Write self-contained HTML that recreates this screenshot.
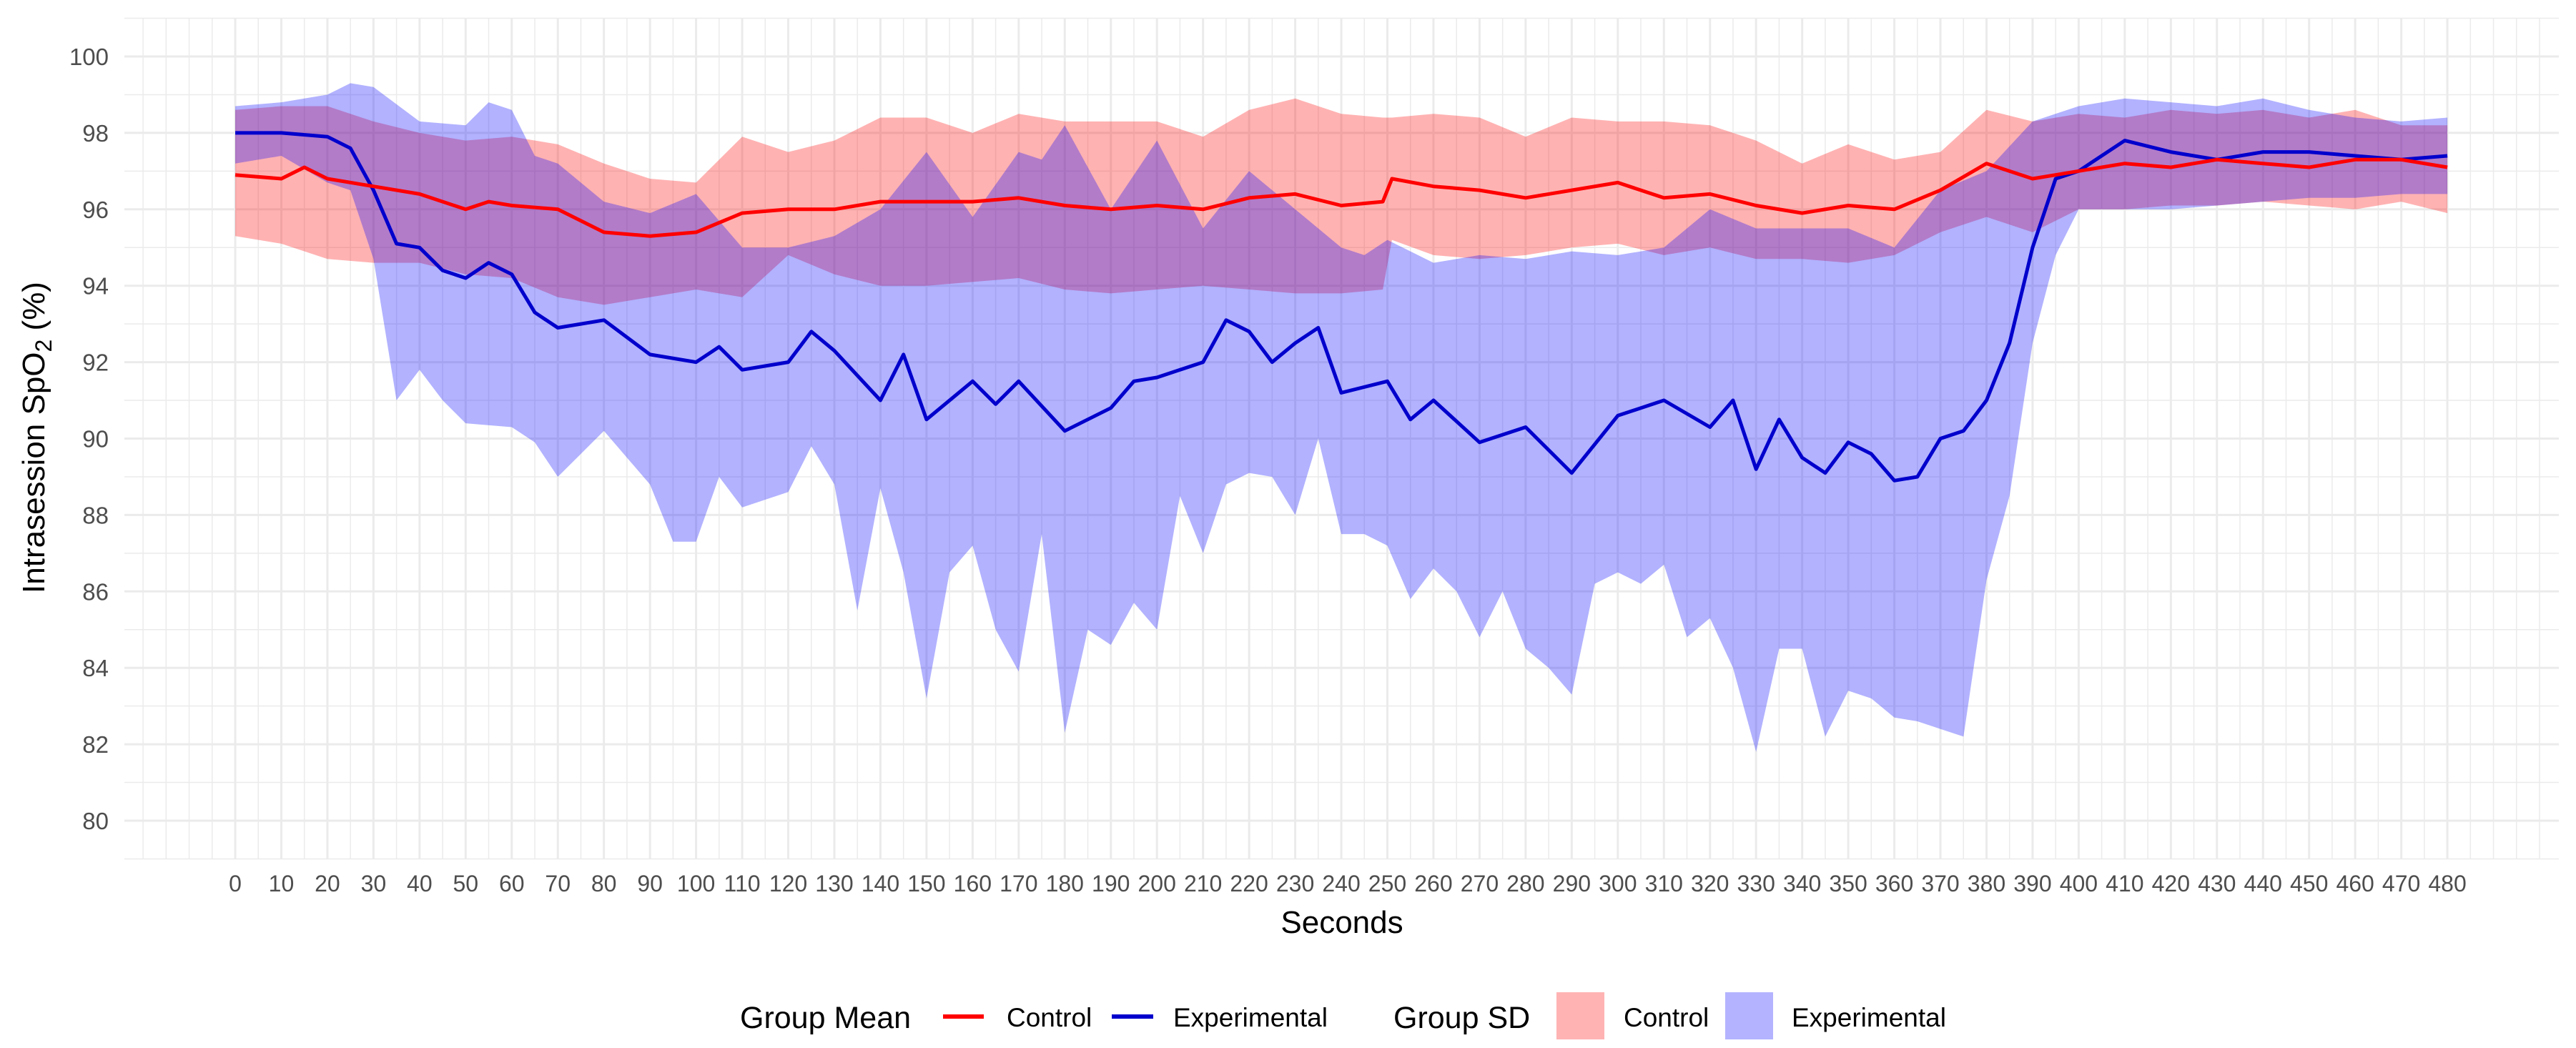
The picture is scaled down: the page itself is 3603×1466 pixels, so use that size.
<!DOCTYPE html>
<html><head><meta charset="utf-8"><style>
html,body{margin:0;padding:0;background:#fff}
svg{display:block}
text{font-family:"Liberation Sans",Arial,sans-serif}
</style></head><body>
<svg id="chart" width="3603" height="1466" viewBox="0 0 3603 1466" xmlns="http://www.w3.org/2000/svg">
<g id="grid"></g>
<g id="bands"></g>
<g id="lines"></g>
<g id="yticks"></g>
<g id="xticks"></g>
<text x="1877" y="1305" font-size="44" text-anchor="middle" fill="#000">Seconds</text>
<text transform="translate(62,612) rotate(-90)" font-size="44" text-anchor="middle" fill="#000">Intrasession SpO<tspan font-size="32" dy="10">2</tspan><tspan dy="-10"> (%)</tspan></text>
<g>
<text x="1035" y="1438" font-size="43">Group Mean</text>
<line x1="1319" y1="1422" x2="1376" y2="1422" stroke="#ff0000" stroke-width="6"/>
<text x="1408" y="1436" font-size="37">Control</text>
<line x1="1555" y1="1422" x2="1613" y2="1422" stroke="#0000cc" stroke-width="6"/>
<text x="1641" y="1436" font-size="37">Experimental</text>
<text x="1949" y="1438" font-size="43">Group SD</text>
<rect x="2177" y="1388" width="67" height="66" fill="#ffb3b3"/>
<text x="2271" y="1436" font-size="37">Control</text>
<rect x="2413" y="1388" width="67" height="66" fill="#b3b3ff"/>
<text x="2506" y="1436" font-size="37">Experimental</text>
</g>
</svg>
<script>
const xTicks=[0,10,20,30,40,50,60,70,80,90,100,110,120,130,140,150,160,170,180,190,200,210,220,230,240,250,260,270,280,290,300,310,320,330,340,350,360,370,380,390,400,410,420,430,440,450,460,470,480];
const yTicks=[80,82,84,86,88,90,92,94,96,98,100];

const ctrlMeanT=[0,10,15,20,30,40,50,55,60,70,80,90,100,110,120,130,140,150,160,170,180,190,200,210,220,230,240,249,251,260,270,280,290,300,310,320,330,340,350,360,370,380,390,400,410,420,430,440,450,460,470,480];
const ctrlMean=[96.9,96.8,97.1,96.8,96.6,96.4,96.0,96.2,96.1,96.0,95.4,95.3,95.4,95.9,96.0,96.0,96.2,96.2,96.2,96.3,96.1,96.0,96.1,96.0,96.3,96.4,96.1,96.2,96.8,96.6,96.5,96.3,96.5,96.7,96.3,96.4,96.1,95.9,96.1,96.0,96.5,97.2,96.8,97.0,97.2,97.1,97.3,97.2,97.1,97.3,97.3,97.1];

const expMeanT=[0,10,20,25,30,35,40,45,50,55,60,65,70,80,90,100,105,110,120,125,130,140,145,150,160,165,170,180,190,195,200,210,215,220,225,230,235,240,250,255,260,270,280,290,300,310,320,325,330,335,340,345,350,355,360,365,370,375,380,385,390,395,400,410,420,430,440,450,460,470,480];
const expMean=[98.0,98.0,97.9,97.6,96.5,95.1,95.0,94.4,94.2,94.6,94.3,93.3,92.9,93.1,92.2,92.0,92.4,91.8,92.0,92.8,92.3,91.0,92.2,90.5,91.5,90.9,91.5,90.2,90.8,91.5,91.6,92.0,93.1,92.8,92.0,92.5,92.9,91.2,91.5,90.5,91.0,89.9,90.3,89.1,90.6,91.0,90.3,91.0,89.2,90.5,89.5,89.1,89.9,89.6,88.9,89.0,90.0,90.2,91.0,92.5,95.0,96.8,97.0,97.8,97.5,97.3,97.5,97.5,97.4,97.3,97.4];

const ctrlBandT=[0,10,20,30,40,50,60,70,80,90,100,110,120,130,140,150,160,170,180,190,200,210,220,230,240,249,251,260,270,280,290,300,310,320,330,340,350,360,370,380,390,400,410,420,430,440,450,460,470,480];
const ctrlUpper=[98.6,98.7,98.7,98.3,98.0,97.8,97.9,97.7,97.2,96.8,96.7,97.9,97.5,97.8,98.4,98.4,98.0,98.5,98.3,98.3,98.3,97.9,98.6,98.9,98.5,98.4,98.4,98.5,98.4,97.9,98.4,98.3,98.3,98.2,97.8,97.2,97.7,97.3,97.5,98.6,98.3,98.5,98.4,98.6,98.5,98.6,98.4,98.6,98.2,98.2];
const ctrlLower=[95.3,95.1,94.7,94.6,94.6,94.3,94.2,93.7,93.5,93.7,93.9,93.7,94.8,94.3,94.0,94.0,94.1,94.2,93.9,93.8,93.9,94.0,93.9,93.8,93.8,93.9,95.2,94.8,94.7,94.8,95.0,95.1,94.8,95.0,94.7,94.7,94.6,94.8,95.4,95.8,95.4,96.0,96.0,96.1,96.1,96.2,96.1,96.0,96.2,95.9];

const expUpperT=[0,10,20,25,30,40,50,55,60,65,70,80,90,100,110,120,130,140,150,160,170,175,180,190,200,210,220,230,240,245,250,260,270,280,290,300,310,320,330,340,350,360,370,380,390,400,410,420,430,440,450,460,470,480];
const expUpper=[98.7,98.8,99.0,99.3,99.2,98.3,98.2,98.8,98.6,97.4,97.2,96.2,95.9,96.4,95.0,95.0,95.3,96.0,97.5,95.8,97.5,97.3,98.2,96.0,97.8,95.5,97.0,96.0,95.0,94.8,95.2,94.6,94.8,94.7,94.9,94.8,95.0,96.0,95.5,95.5,95.5,95.0,96.5,97.0,98.3,98.7,98.9,98.8,98.7,98.9,98.6,98.4,98.3,98.4];

const expLowerT=[0,10,20,25,30,35,40,45,50,60,65,70,75,80,85,90,95,100,105,110,120,125,130,135,140,145,150,155,160,165,170,175,180,185,190,195,200,205,210,215,220,225,230,235,240,245,250,255,260,265,270,275,280,285,290,295,300,305,310,315,320,325,330,335,340,345,350,355,360,365,370,375,380,385,390,395,400,410,420,430,440,450,460,470,480];
const expLower=[97.2,97.4,96.7,96.5,94.7,91.0,91.8,91.0,90.4,90.3,89.9,89.0,89.6,90.2,89.5,88.8,87.3,87.3,89.0,88.2,88.6,89.8,88.8,85.5,88.7,86.5,83.2,86.5,87.2,85.0,83.9,87.5,82.3,85.0,84.6,85.7,85.0,88.5,87.0,88.8,89.1,89.0,88.0,90.0,87.5,87.5,87.2,85.8,86.6,86.0,84.8,86.0,84.5,84.0,83.3,86.2,86.5,86.2,86.7,84.8,85.3,84.0,81.8,84.5,84.5,82.2,83.4,83.2,82.7,82.6,82.4,82.2,86.3,88.5,92.5,94.8,96.0,96.0,96.0,96.1,96.2,96.3,96.3,96.4,96.4];

const NS="http://www.w3.org/2000/svg";
const X0=329, XPX=6.446, Y0=1148, YPX=53.45;
function xs(t){return X0+t*XPX;}
function ys(v){return Y0-(v-80)*YPX;}
function mk(tag,attrs,parent){const e=document.createElementNS(NS,tag);for(const k in attrs)e.setAttribute(k,attrs[k]);parent.appendChild(e);return e;}

const grid=document.getElementById('grid');
const L=174,R=3579,T=25,B=1201;
for(let v=79;v<=101;v+=1){
  const major=(v%2===0);
  const ln=mk('line',{x1:L,x2:R,y1:ys(v),y2:ys(v),stroke:'#ebebeb','stroke-width':major?3:1.5},grid);
  
  
}
for(let t=-20;t<=500;t+=5){
  const major=(t%10===0)&&t>=0&&t<=480;
  const ln=mk('line',{x1:xs(t),x2:xs(t),y1:T,y2:B,stroke:'#ebebeb','stroke-width':major?3:1.5},grid);
  
  
}

function bandPath(tu,up,tl,lo){
  let d='M'+tu.map((t,i)=>xs(t).toFixed(1)+','+ys(up[i]).toFixed(1)).join('L');
  for(let i=tl.length-1;i>=0;i--)d+='L'+xs(tl[i]).toFixed(1)+','+ys(lo[i]).toFixed(1);
  return d+'Z';
}
const bands=document.getElementById('bands');
const cb=mk('path',{d:bandPath(ctrlBandT,ctrlUpper,ctrlBandT,ctrlLower),fill:'#ff0000','fill-opacity':0.3},bands);


const eb=mk('path',{d:bandPath(expUpperT,expUpper,expLowerT,expLower),fill:'#0000ff','fill-opacity':0.3},bands);



function linePath(ts,vs){return 'M'+ts.map((t,i)=>xs(t).toFixed(1)+','+ys(vs[i]).toFixed(1)).join('L');}
const lines=document.getElementById('lines');
const el=mk('path',{d:linePath(expMeanT,expMean),fill:'none',stroke:'#0000cc','stroke-width':5,'stroke-linejoin':'round'},lines);


const cl=mk('path',{d:linePath(ctrlMeanT,ctrlMean),fill:'none',stroke:'#ff0000','stroke-width':5,'stroke-linejoin':'round'},lines);



const yt=document.getElementById('yticks');
yTicks.forEach(v=>{
  const t=mk('text',{x:152,y:ys(v)+12,'font-size':33,'text-anchor':'end',fill:'#4d4d4d'},yt);
  t.textContent=v;
  
  
});
const xt=document.getElementById('xticks');
xTicks.forEach(v=>{
  const t=mk('text',{x:xs(v),y:1247,'font-size':32,'text-anchor':'middle',fill:'#4d4d4d'},xt);
  t.textContent=v;
  
  
});
</script>
</body></html>
